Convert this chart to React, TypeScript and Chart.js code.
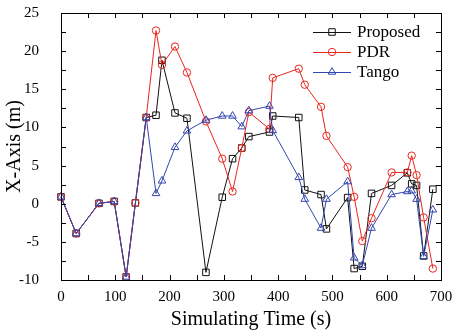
import React, { useEffect, useRef } from "react";
import { Chart, registerables } from "chart.js";

Chart.register(...registerables);

// Simulating time (s)
const times = [0, 28, 70, 98, 120, 137, 157, 175, 186, 210, 232, 267, 297, 316, 333, 346, 384, 390, 438, 449, 479, 489, 528, 540, 555, 572, 609, 638, 646, 655, 668, 685];

// X-Axis (m)
const proposed = [0.9, -3.9, 0.05, 0.3, -9.6, 0.1, 11.3, 11.6, 18.8, 11.9, 11.2, -9.0, 0.85, 5.9, 7.3, 8.8, 9.4, 11.5, 11.3, 1.8, 1.2, -3.3, 0.8, -8.5, -8.2, 1.35, 2.4, 4.05, 2.6, 2.4, -6.85, 1.9];
const pdr = [0.9, -3.9, 0.05, 0.3, -9.6, 0.1, 11.3, 22.7, 18.2, 20.6, 17.2, 10.8, 5.9, 1.6, 7.3, 12.0, 9.8, 16.5, 17.7, 15.6, 12.7, 8.9, 4.8, 0.9, -4.9, -1.9, 4.1, 4.1, 6.3, 3.75, -1.8, -8.5];
const tango = [0.9, -3.9, 0.05, 0.3, -9.6, null, 11.3, 1.35, 3.0, 7.4, 9.55, 10.95, 11.5, 11.5, 10.1, 12.2, 12.8, 9.6, 3.45, 0.6, -3.2, 0.6, 2.9, -7.1, -8.1, -3.2, 1.2, 1.6, 1.7, 0.6, -6.9, -0.8];

const seriesLabels = ["Proposed", "PDR", "Tango"];
const xTickValues = [0, 100, 200, 300, 400, 500, 600, 700];
const yTickValues = [-10, -5, 0, 5, 10, 15, 20, 25];

const SERIF = "'Liberation Serif', 'Times New Roman', serif";
const BLACK = "#111111";
const RED = "#e8261e";
const BLUE = "#3346b0";

const toPoints = (ys: (number | null)[]) =>
  times.map((t, i) => ({ x: t, y: ys[i] })).filter((p) => p.y !== null);

const framePlugin = {
  id: "frameTicks",
  afterDraw(chart: any) {
    const { ctx, chartArea } = chart;
    const { left, right, top, bottom } = chartArea;
    const xs = chart.scales.x;
    const ys = chart.scales.y;
    const tl = 5;
    ctx.save();
    ctx.strokeStyle = "#000";
    ctx.lineWidth = 1;
    ctx.beginPath();
    xs.ticks.forEach((t: any) => {
      const px = Math.round(xs.getPixelForValue(t.value)) + 0.5;
      ctx.moveTo(px, bottom);
      ctx.lineTo(px, bottom - tl);
      ctx.moveTo(px, top);
      ctx.lineTo(px, top + tl);
    });
    ys.ticks.forEach((t: any) => {
      const py = Math.round(ys.getPixelForValue(t.value)) + 0.5;
      ctx.moveTo(left, py);
      ctx.lineTo(left + tl, py);
      ctx.moveTo(right, py);
      ctx.lineTo(right - tl, py);
    });
    ctx.stroke();
    ctx.strokeRect(Math.round(left) + 0.5, Math.round(top) + 0.5, Math.round(right - left), Math.round(bottom - top));

    // legend: line with marker, then label
    const lx0 = 313;
    const lx1 = 351;
    const tx = 357;
    const rows = [32, 52, 72];
    chart.data.datasets.forEach((ds: any, i: number) => {
      const y = rows[i];
      ctx.strokeStyle = ds.borderColor;
      ctx.lineWidth = 1;
      ctx.beginPath();
      ctx.moveTo(lx0, y + 0.5);
      ctx.lineTo(lx1, y + 0.5);
      ctx.stroke();
      const mx = (lx0 + lx1) / 2;
      ctx.beginPath();
      if (ds.pointStyle === "rect") {
        const s = ds.pointRadius * Math.SQRT1_2;
        ctx.rect(mx - s, y - s, 2 * s, 2 * s);
      } else if (ds.pointStyle === "circle") {
        ctx.arc(mx, y, ds.pointRadius, 0, Math.PI * 2);
      } else {
        const r = ds.pointRadius;
        ctx.moveTo(mx, y - r);
        ctx.lineTo(mx + r * Math.cos(Math.PI / 6), y + r / 2);
        ctx.lineTo(mx - r * Math.cos(Math.PI / 6), y + r / 2);
        ctx.closePath();
      }
      ctx.stroke();
      ctx.fillStyle = "#000";
      ctx.font = `17px ${SERIF}`;
      ctx.textBaseline = "middle";
      ctx.textAlign = "left";
      ctx.fillText(ds.label, tx, y + 1);
    });
    ctx.restore();
  },
};

export default function App() {
  const ref = useRef<HTMLCanvasElement | null>(null);

  useEffect(() => {
    if (!ref.current) return;
    const mk = (label: string, ys: (number | null)[], color: string, style: string, r: number, order: number) => ({
      label,
      data: toPoints(ys),
      borderColor: color,
      backgroundColor: "rgba(0,0,0,0)",
      borderWidth: 1,
      pointStyle: style,
      pointRadius: r,
      pointBorderWidth: 1,
      pointBorderColor: color,
      pointBackgroundColor: "rgba(0,0,0,0)",
      tension: 0,
      clip: false,
      order,
    });
    const chart = new Chart(ref.current, {
      type: "line",
      data: {
        datasets: [
          mk(seriesLabels[0], proposed, BLACK, "rect", 4.6, 2),
          mk(seriesLabels[1], pdr, RED, "circle", 3.7, 1),
          mk(seriesLabels[2], tango, BLUE, "triangle", 4.4, 0),
        ] as any,
      },
      options: {
        responsive: false,
        animation: false,
        layout: { padding: { left: 0, top: 13, right: 11, bottom: 0 } },
        plugins: { legend: { display: false }, tooltip: { enabled: false } },
        scales: {
          x: {
            type: "linear",
            min: 0,
            max: 700,
            afterBuildTicks: (s: any) => {
              const arr = [];
              for (let v = 0; v <= 700; v += 50) arr.push({ value: v });
              s.ticks = arr;
            },
            ticks: {
              autoSkip: false,
              maxRotation: 0,
              padding: 0,
              color: "#000",
              font: { family: SERIF, size: 15 },
              callback: (v: any) => (xTickValues.includes(Number(v)) ? String(v) : ""),
            },
            grid: { display: false },
            border: { display: false },
            title: {
              display: true,
              text: "Simulating Time (s)",
              color: "#000",
              font: { family: SERIF, size: 20 },
              padding: { top: 0, bottom: 1 },
            },
            afterFit: (s: any) => {
              s.height = 53;
              s.paddingLeft = 0;
              s.paddingRight = 0;
            },
          },
          y: {
            type: "linear",
            min: -10,
            max: 25,
            afterBuildTicks: (s: any) => {
              const arr = [];
              for (let v = -10; v <= 25; v += 2.5) arr.push({ value: v });
              s.ticks = arr;
            },
            ticks: {
              autoSkip: false,
              padding: 14,
              color: "#000",
              font: { family: SERIF, size: 15 },
              callback: (v: any) => (yTickValues.includes(Number(v)) ? String(v) : ""),
            },
            grid: { display: false },
            border: { display: false },
            title: {
              display: true,
              text: "X-Axis (m)",
              color: "#000",
              font: { family: SERIF, size: 20 },
              padding: { top: 3, bottom: 0 },
            },
            afterFit: (s: any) => {
              s.width = 61;
              s.paddingTop = 0;
              s.paddingBottom = 0;
            },
          },
        },
      } as any,
      plugins: [framePlugin],
    });
    return () => chart.destroy();
  }, []);

  return (
    <div style={{ position: "fixed", left: 0, top: 0, width: 452, height: 333, background: "#fff" }}>
      <canvas ref={ref} width={452} height={333} style={{ display: "block", width: 452, height: 333 }} />
    </div>
  );
}
